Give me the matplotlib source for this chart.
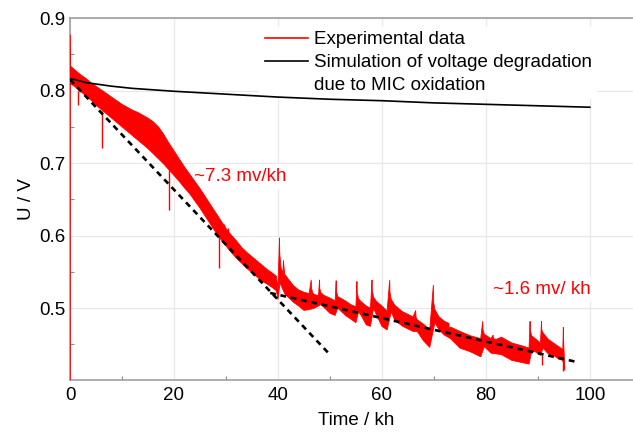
import numpy as np
import matplotlib
matplotlib.use("Agg")
import matplotlib.pyplot as plt
from matplotlib.lines import Line2D
from matplotlib.ticker import MultipleLocator

plt.rcParams['font.family'] = ['Liberation Sans', 'DejaVu Sans']

# ---- experimental data: upper envelope of the noisy band (with recovery spikes)
t_up = [0, 0, 0.05, 1, 2, 3, 4, 5, 6, 7, 8, 9, 10, 11, 12, 13, 14, 15, 16,
        17, 18, 19, 20, 21, 22, 23, 24, 25, 26, 27, 28, 29, 30, 31, 32, 33, 34,
        35, 36, 37, 38, 39, 39.7, 40.0, 40.3, 40.35, 40.6, 41.0, 41.05, 41.3, 42,
        43, 44, 45, 46, 46.4, 46.45, 46.7, 47, 47.8, 48.0, 48.05, 48.3, 49, 50,
        51, 51.2, 51.25, 51.5, 53, 54, 55, 55.2, 55.25, 55.5, 56, 57, 57.8, 58.1,
        58.15, 58.4, 59, 60, 61, 61.5, 61.55, 61.8, 62.5, 64, 66, 66.5, 66.55,
        66.8, 68, 69.2, 69.9, 69.95, 70.2, 71, 72, 72.9, 72.95, 73.2, 75, 77, 79,
        79.4, 79.45, 79.7, 81, 81.4, 81.45, 82, 83, 85, 87, 88.3, 88.5, 88.55,
        88.8, 89.5, 90.5, 90.7, 90.75, 91, 92, 93, 94, 94.8, 94.9, 94.95, 95.2]
u_up = [0.40, 0.877, 0.834, 0.828, 0.822, 0.817, 0.811, 0.806, 0.801, 0.796,
        0.791, 0.786, 0.781, 0.777, 0.773, 0.770, 0.766, 0.762, 0.757,
        0.750, 0.740, 0.728, 0.717, 0.706, 0.695, 0.685, 0.675, 0.665, 0.654,
        0.643, 0.632, 0.621, 0.610, 0.601, 0.593, 0.584, 0.577, 0.571, 0.565,
        0.559, 0.553, 0.548, 0.544, 0.526, 0.597, 0.575, 0.556, 0.548, 0.566,
        0.547, 0.540, 0.531, 0.525, 0.522, 0.520, 0.539, 0.528, 0.521, 0.519,
        0.517, 0.539, 0.527, 0.521, 0.517, 0.514, 0.510, 0.538, 0.524, 0.516,
        0.510, 0.505, 0.502, 0.537, 0.522, 0.513, 0.509, 0.503, 0.500, 0.539,
        0.525, 0.515, 0.509, 0.503, 0.496, 0.539, 0.522, 0.512, 0.504, 0.495,
        0.488, 0.497, 0.488, 0.484, 0.478, 0.470, 0.532, 0.508, 0.498, 0.488,
        0.482, 0.479, 0.470, 0.474, 0.468, 0.462, 0.458, 0.482, 0.470, 0.464,
        0.458, 0.463, 0.458, 0.457, 0.460, 0.452, 0.448, 0.445, 0.482, 0.470,
        0.462, 0.458, 0.452, 0.482, 0.470, 0.466, 0.457, 0.452, 0.447, 0.443,
        0.474, 0.455, 0.414]

# ---- experimental data: lower envelope of the noisy band
t_lo = [0, 1, 2, 3, 4, 5, 6, 7, 8, 9, 10, 11, 12, 13, 14, 15, 16, 17, 18,
        19, 20, 21, 22, 23, 24, 25, 26, 27, 28, 29, 30, 31, 32, 33, 34, 35, 36,
        37, 38, 39, 39.7, 40.0, 40.4, 41.3, 42, 43, 44, 45, 46, 47, 48.3, 49,
        50, 51, 51.5, 53, 54, 55, 55.5, 56, 57, 57.8, 58.4, 59, 60, 61, 61.8,
        62.5, 64, 66, 66.8, 68, 69.2, 70.2, 71, 72, 73.2, 75, 77, 79, 79.7, 81,
        82, 83, 85, 87, 88.3, 88.8, 89.5, 90.5, 91, 92, 93, 94, 94.8, 95.2]
u_lo = [0.810, 0.805, 0.799, 0.793, 0.787, 0.780, 0.774, 0.768, 0.762, 0.756,
        0.750, 0.744, 0.738, 0.732, 0.726, 0.720, 0.713, 0.706, 0.699,
        0.691, 0.683, 0.675, 0.666, 0.658, 0.648, 0.638, 0.627, 0.616, 0.605,
        0.595, 0.586, 0.577, 0.569, 0.562, 0.555, 0.549, 0.543, 0.537, 0.533,
        0.528, 0.524, 0.512, 0.535, 0.520, 0.515, 0.508, 0.503, 0.497, 0.498,
        0.500, 0.505, 0.500, 0.493, 0.490, 0.500, 0.490, 0.485, 0.480, 0.495,
        0.490, 0.477, 0.475, 0.500, 0.490, 0.475, 0.470, 0.495, 0.483, 0.475,
        0.468, 0.468, 0.455, 0.446, 0.480, 0.470, 0.463, 0.458, 0.445, 0.440,
        0.433, 0.447, 0.438, 0.437, 0.436, 0.428, 0.425, 0.423, 0.440, 0.440,
        0.435, 0.445, 0.437, 0.435, 0.430, 0.428, 0.414]

# ---- thin glitches in the experimental record (time, from, to)
glitch_t = [1.5, 6.1, 19.0, 28.7, 29.6, 30.4, 90.7, 94.9]
glitch_from = [0.800, 0.772, 0.690, 0.600, 0.605, 0.598, 0.436, 0.430]
glitch_to = [0.780, 0.721, 0.635, 0.555, 0.616, 0.610, 0.421, 0.414]

# ---- simulation of voltage degradation due to MIC oxidation
t_sim = [0, 1, 2, 3, 5, 8, 12, 20, 30, 40, 50, 60, 70, 80, 90, 100]
u_sim = [0.816, 0.815, 0.813, 0.811, 0.809, 0.806, 0.803, 0.799, 0.795, 0.791,
         0.788, 0.786, 0.783, 0.781, 0.779, 0.777]

# ---- linear fits (dashed)
t_fit1 = [0, 49.6]
u_fit1 = [0.815, 0.439]
t_fit2 = [38.5, 97.7]
u_fit2 = [0.521, 0.4255]

xticks = [0, 20, 40, 60, 80, 100]
yticks = [0.5, 0.6, 0.7, 0.8, 0.9]
ytick_labels = ['0.5', '0.6', '0.7', '0.8', '0.9']

FS = 13.5
fig = plt.figure(figsize=(6.33, 4.32), dpi=100)
ax = fig.add_axes([70/633, 52/432, 563/633, 362/432])

red = '#ff0000'
poly_x = np.concatenate([t_up, t_lo[::-1]])
poly_y = np.concatenate([u_up, u_lo[::-1]])
ax.fill(poly_x, poly_y, facecolor=red, edgecolor=red, lw=0.6, zorder=3)
ax.vlines(glitch_t, glitch_from, glitch_to, color=red, lw=1.0, zorder=3)

ax.plot(t_sim, u_sim, color='black', lw=1.2, zorder=4)
ax.plot(t_fit1, u_fit1, color='black', lw=1.9, ls=(0, (2.2, 1.8)), zorder=5)
ax.plot(t_fit2, u_fit2, color='black', lw=1.9, ls=(0, (2.2, 1.8)), zorder=5)

ax.set_xlim(0, 108.3)
ax.set_ylim(0.401, 0.9)
ax.set_xticks(xticks)
ax.set_yticks(yticks)
ax.set_yticklabels(ytick_labels)
ax.xaxis.set_minor_locator(MultipleLocator(10))
ax.yaxis.set_minor_locator(MultipleLocator(0.05))
ax.tick_params(which='both', direction='in', colors='#909090', labelcolor='black',
               labelsize=FS)
ax.tick_params(which='major', length=0)
ax.tick_params(which='minor', length=3, width=0.8)
ax.tick_params(axis='x', pad=5)
ax.tick_params(axis='y', pad=3)
ax.grid(True, which='major', color='#e8e8e8', lw=0.9, zorder=0)
ax.set_axisbelow(True)
for s in ['left', 'bottom', 'top']:
    ax.spines[s].set_color('#a0a0a0')
    ax.spines[s].set_linewidth(1.2)
ax.spines['right'].set_visible(False)

ax.set_xlabel('Time / kh', fontsize=FS)
ax.set_ylabel('U / V', fontsize=FS)
ax.xaxis.set_label_coords(0.508, -0.088)
ax.yaxis.set_label_coords(-0.062, 0.5)

ax.text(23.8, 0.682, '~7.3 mv/kh', color=red, fontsize=FS, va='center', ha='left',
        bbox=dict(facecolor='white', edgecolor='none', pad=3), zorder=2)
ax.text(81.3, 0.526, '~1.6 mv/ kh', color=red, fontsize=FS, va='center', ha='left',
        bbox=dict(facecolor='white', edgecolor='none', pad=3), zorder=2)

handles = [Line2D([], [], color=red, lw=1.2),
           Line2D([], [], color='black', lw=1.2),
           Line2D([], [], color='none')]
labels = ['Experimental data', 'Simulation of voltage degradation',
          'due to MIC oxidation']
leg = ax.legend(handles, labels, loc='upper left', bbox_to_anchor=(0.336, 0.979),
                frameon=True, framealpha=1, facecolor='white', edgecolor='none',
                fancybox=False, fontsize=FS, handlelength=2.3, handletextpad=0.3,
                labelspacing=0.3, borderpad=0.3, borderaxespad=0)
leg.set_zorder(2.5)

fig.savefig('out.png', dpi=100)
